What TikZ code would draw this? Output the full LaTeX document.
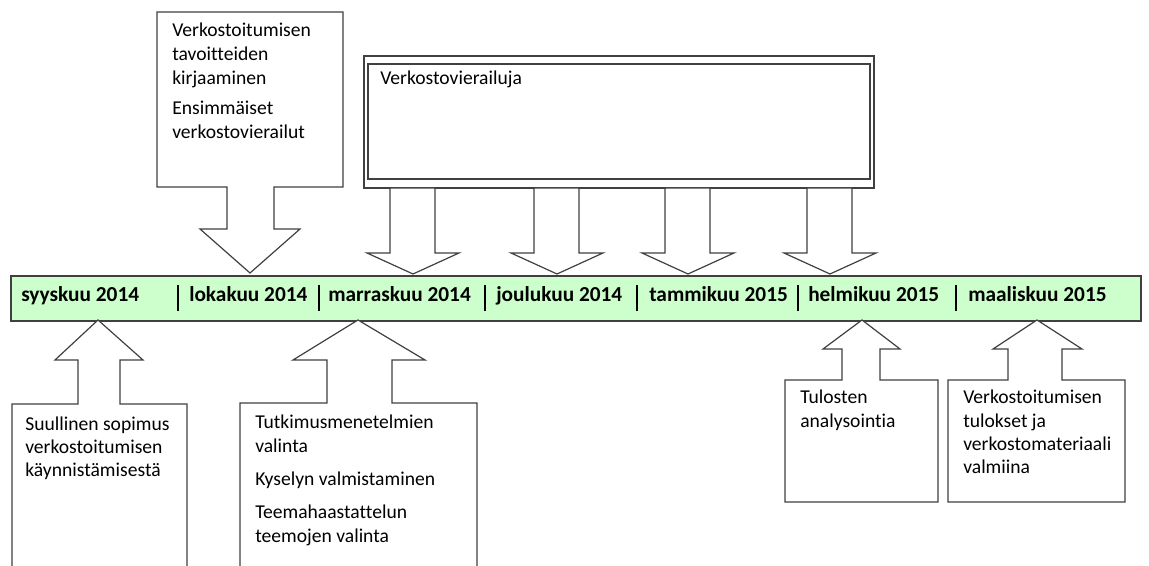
\documentclass[tikz,border=0pt]{standalone}
\usepackage{fontspec}
\setmainfont{Carlito}[Ligatures=NoCommon]
\definecolor{linec}{HTML}{404040}
\definecolor{barfill}{HTML}{CCFFCC}
\begin{document}
\begin{tikzpicture}[x=0.75pt,y=-0.75pt,
  shp/.style={draw=linec,line width=0.9pt,fill=white},
  month/.style={anchor=base west,font=\bfseries\fontsize{16pt}{19pt}\selectfont,inner sep=0pt},
  txt/.style={anchor=base west,inner sep=0pt,font=\fontsize{14.7pt}{18pt}\selectfont},
  sep/.style={draw=black,line width=0.8pt}]
\useasboundingbox (0,0) rectangle (1149,566);
% top-left callout
\draw[shp] (157,12) -- (343,12) -- (343,187) -- (274,187) -- (274,229) -- (300,229) -- (250,273) -- (200,229) -- (227,229) -- (227,187) -- (157,187) -- cycle;
\node[txt] (t1a) at (172,37) {Verkostoitumisen};
\node[txt] (t1b) at (172,61) {tavoitteiden};
\node[txt] (t1c) at (172,85) {kirjaaminen};
\node[txt] (t1d) at (172,115) {Ensimmäiset};
\node[txt] (t1e) at (172,139) {verkostovierailut};
% big double box
\draw[shp] (364,56) rectangle (874,188);
\draw[draw=linec,line width=0.9pt] (368,64) rectangle (870,179);
\node[txt] (t2) at (380,85) {Verkostovierailuja};
% four down arrows
\foreach \c in {413,557,688,830}{
  \draw[shp] (\c-23,188) -- (\c+22,188) -- (\c+22,253) -- (\c+46,253) -- (\c,274) -- (\c-46,253) -- (\c-23,253) -- cycle;
}
% bar
\node[draw=linec,line width=1.4pt,fill=barfill,minimum width=1130*0.75pt,minimum height=45*0.75pt,inner sep=0pt,anchor=north west] (bar) at (10,275) {};
\node[month] (m1) at (21,302) {syyskuu 2014};
\node[month] (m2) at (189,302) {lokakuu 2014};
\node[month] (m3) at (328,302) {marraskuu 2014};
\node[month] (m4) at (496,302) {joulukuu 2014};
\node[month] (m5) at (649,302) {tammikuu 2015};
\node[month] (m6) at (808,302) {helmikuu 2015};
\node[month] (m7) at (968,302) {maaliskuu 2015};
\foreach \x in {178,319,485,637,798,956}{
  \draw[sep] (\x,285) -- (\x,311);
}
% bottom callouts
\draw[shp] (98,320) -- (143,360) -- (120,360) -- (120,404) -- (187,404) -- (187,580) -- (12,580) -- (12,404) -- (78,404) -- (78,360) -- (55,360) -- cycle;
\node[txt] (b1a) at (25,430) {Suullinen sopimus};
\node[txt] (b1b) at (25,453) {verkostoitumisen};
\node[txt] (b1c) at (25,476) {käynnistämisestä};
\draw[shp] (358,320) -- (425,360) -- (392,360) -- (392,403) -- (477,403) -- (477,580) -- (240,580) -- (240,403) -- (327,403) -- (327,360) -- (293,360) -- cycle;
\node[txt] (b2a) at (255,428) {Tutkimusmenetelmien};
\node[txt] (b2b) at (255,452) {valinta};
\node[txt] (b2c) at (255,485) {Kyselyn valmistaminen};
\node[txt] (b2d) at (255,518) {Teemahaastattelun};
\node[txt] (b2e) at (255,542) {teemojen valinta};
\draw[shp] (862,320) -- (900,349) -- (880,349) -- (880,380) -- (938,380) -- (938,502) -- (785,502) -- (785,380) -- (842,380) -- (842,349) -- (823,349) -- cycle;
\node[txt] (b3a) at (800,403) {Tulosten};
\node[txt] (b3b) at (800,427) {analysointia};
\draw[shp] (1037,320) -- (1082,349) -- (1062,349) -- (1062,380) -- (1125,380) -- (1125,502) -- (948,502) -- (948,380) -- (1008,380) -- (1008,349) -- (993,349) -- cycle;
\node[txt] (b4a) at (963,403) {Verkostoitumisen};
\node[txt] (b4b) at (963,427) {tulokset ja};
\node[txt] (b4c) at (963,450) {verkostomateriaali};
\node[txt] (b4d) at (963,473) {valmiina};
\end{tikzpicture}
\end{document}
